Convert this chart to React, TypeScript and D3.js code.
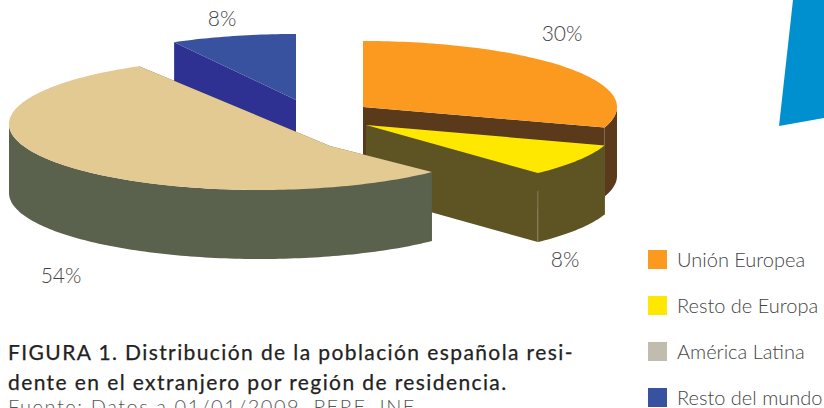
import React from "react";
import * as d3 from "d3";

const categories = ["Unión Europea", "Resto de Europa", "América Latina", "Resto del mundo"];
const shares = [30, 8, 54, 8];
const shareLabels = ["30%", "8%", "54%", "8%"];
const topColors = ["#fb9a1f", "#ffe800", "#e3c992", "#3852a0"];
const sideColors = ["#5b3a1c", "#5e5322", "#5a614c", "#2e3192"];
const legendColors = ["#fb9a1f", "#ffe800", "#c0bdae", "#3852a0"];
const titleLines = [
  "FIGURA 1. Distribución de la población española resi-",
  "dente en el extranjero por región de residencia.",
];
const sourceLine = "Fuente: Datos a 01/01/2009. PERE, INE.";

const FONT = "Lato, 'Open Sans', sans-serif";
const DEPTH = 69;
const RY = 66;
// Exploded slice geometry (layout only); ax/ay is the visible apex of the top face
const sliceLayout = [
  { cx: 363, cy: 107, rx: 254, ax: 363, ay: 107 },
  { cx: 366, cy: 125, rx: 251, ax: 366, ay: 125 },
  { cx: 260, cy: 124, rx: 251, ax: 330, ay: 146 },
  { cx: 296, cy: 100, rx: 253, ax: 296, ay: 100 },
];
const labelPos = [
  { x: 562, y: 41 },
  { x: 565, y: 267 },
  { x: 61, y: 283 },
  { x: 222, y: 26 },
];
const legendY = [250, 296, 342, 388];

const pie = d3.pie<number>().sort(null).value((d) => d);
const arcs = pie(shares);
const line = d3.line<[number, number]>().curve(d3.curveLinear);

type L = (typeof sliceLayout)[number];
const pt = (l: L, a: number, dy = 0): [number, number] => [
  l.cx + l.rx * Math.sin(a),
  l.cy - RY * Math.cos(a) + dy,
];
const sample = (a0: number, a1: number) => {
  const n = Math.max(2, Math.ceil(Math.abs(a1 - a0) / 0.02));
  return d3.range(n + 1).map((i) => a0 + ((a1 - a0) * i) / n);
};
const closed = (pts: [number, number][]) => line(pts) + "Z";

const topPath = (l: L, a0: number, a1: number) =>
  closed([[l.ax, l.ay], ...sample(a0, a1).map((a) => pt(l, a))]);
const rimPath = (l: L, a0: number, a1: number) => {
  // the outer wall is only visible on the front half of the ellipse
  const lo = Math.max(a0, Math.PI / 2);
  const hi = Math.min(a1, (3 * Math.PI) / 2);
  if (hi <= lo) return "";
  const angles = sample(lo, hi);
  return closed([
    ...angles.map((a) => pt(l, a)),
    ...angles.slice().reverse().map((a) => pt(l, a, DEPTH)),
  ]);
};
const facePath = (l: L, a: number) =>
  closed([[l.ax, l.ay], pt(l, a), pt(l, a, DEPTH), [l.ax, l.ay + DEPTH]]);

export default function App() {
  const order = [3, 0, 1, 2];
  const yellowEnd = pt(sliceLayout[1], arcs[1].endAngle);
  return (
    <svg
      width={824}
      height={408}
      viewBox="0 0 824 408"
      style={{ position: "absolute", left: 0, top: 0, background: "#fff" }}
    >
      <polygon points="793,0 824,0 824,118 779,126" fill="#0090d0" />
      {order.map((i) => {
        const l = sliceLayout[i];
        const { startAngle: a0, endAngle: a1 } = arcs[i];
        return (
          <g key={categories[i]}>
            <path d={facePath(l, a1)} fill={sideColors[i]} />
            <path d={facePath(l, a0)} fill={sideColors[i]} />
            <path d={rimPath(l, a0, a1)} fill={sideColors[i]} />
            <path d={topPath(l, a0, a1)} fill={topColors[i]} />
            {i === 1 && (
              <line
                x1={yellowEnd[0]}
                x2={yellowEnd[0]}
                y1={yellowEnd[1] + 18}
                y2={yellowEnd[1] + DEPTH}
                stroke="#8f8a70"
                strokeWidth={0.8}
              />
            )}
          </g>
        );
      })}
      {shareLabels.map((t, i) => (
        <text
          key={i}
          x={labelPos[i].x}
          y={labelPos[i].y}
          textAnchor="middle"
          fontFamily={FONT}
          fontWeight={300}
          fontSize={21}
          fill="#444"
        >
          {t}
        </text>
      ))}
      {titleLines.map((t, i) => (
        <text
          key={i}
          x={8}
          y={360 + i * 30}
          fontFamily={FONT}
          fontWeight={400}
          fontSize={21}
          letterSpacing={1.4}
          stroke="#222"
          strokeWidth={0.25}
          fill="#222"
        >
          {t}
        </text>
      ))}
      <text x={8} y={414} fontFamily={FONT} fontWeight={300} fontSize={20} letterSpacing={1.55} fill="#555">
        {sourceLine}
      </text>
      {categories.map((c, i) => (
        <g key={c}>
          <rect x={648} y={legendY[i]} width={19} height={19} fill={legendColors[i]} />
          <text x={677} y={legendY[i] + 17} fontFamily={FONT} fontWeight={300} fontSize={20} fill="#444">
            {c}
          </text>
        </g>
      ))}
    </svg>
  );
}
